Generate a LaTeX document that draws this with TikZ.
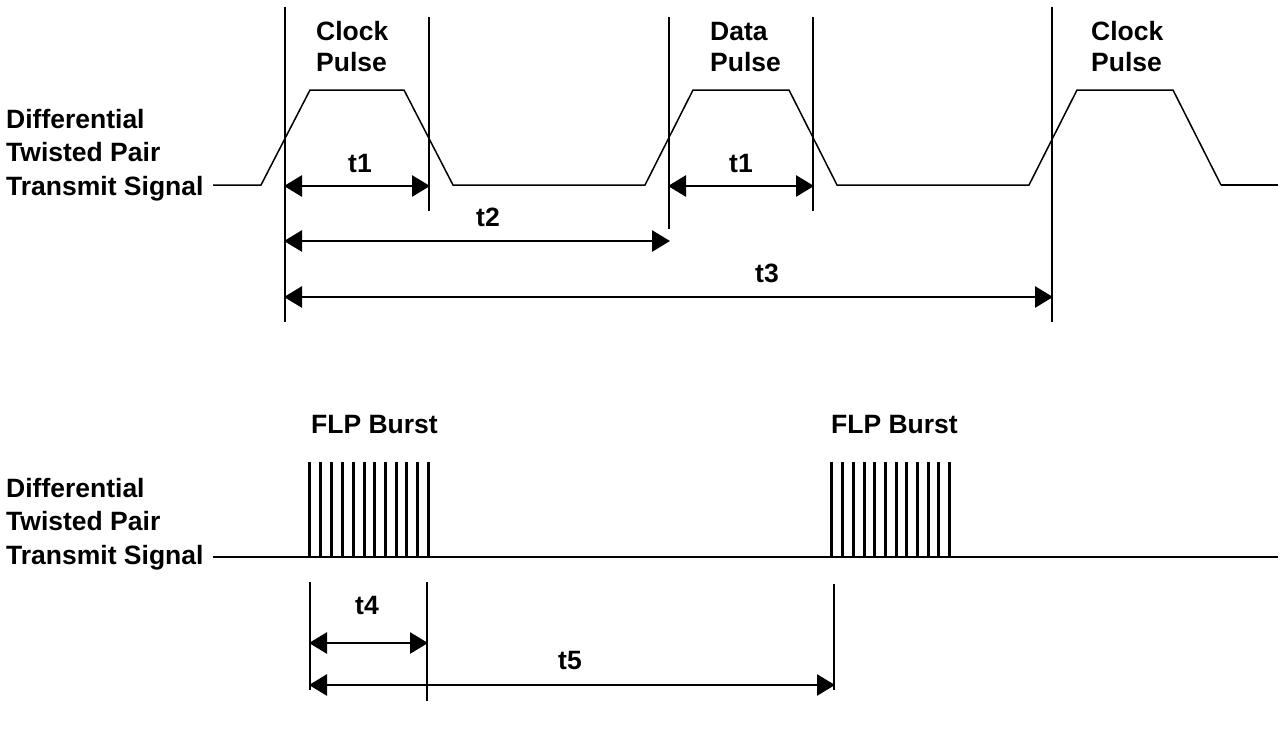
\documentclass[tikz,border=0pt]{standalone}
\usepackage{fontspec}
\setmainfont{Liberation Sans}
\usetikzlibrary{arrows.meta}
\begin{document}
\begin{tikzpicture}[x=1pt,y=-1pt,
  lbl/.style={inner sep=0pt,anchor=base west,font=\fontsize{26.5}{30}\selectfont\bfseries},
  tlbl/.style={inner sep=0pt,anchor=base,font=\fontsize{26.5}{30}\selectfont\bfseries},
  wave/.style={line width=1.5pt,line join=miter},
  marker/.style={line width=2.8pt},
  dim/.style={line width=2.8pt,{Triangle[length=18pt,width=21pt]}-{Triangle[length=18pt,width=21pt]},shorten <=-1pt,shorten >=-1pt},
  burst/.style={line width=2.2pt},
  base/.style={line width=2.5pt}]
\useasboundingbox (0,0) rectangle (1283,750);
\fill[white] (0,0) rectangle (1283,750);

% ---------- top diagram ----------
\node[lbl] (d1a) at (6,128) {Differential};
\node[lbl] (d1b) at (6,161.5) {Twisted Pair};
\node[lbl] (d1c) at (6,195.5) {Transmit Signal};

\node[lbl] (cp1a) at (316,40) {Clock};
\node[lbl] (cp1b) at (316,71) {Pulse};
\node[lbl] (dpa) at (710,40) {Data};
\node[lbl] (dpb) at (710,71) {Pulse};
\node[lbl] (cp2a) at (1091,40) {Clock};
\node[lbl] (cp2b) at (1091,71) {Pulse};

\draw[wave] (213,185) -- (261,185) -- (310,90) -- (404,90) -- (453,185)
  -- (645,185) -- (693,90) -- (789,90) -- (837,185)
  -- (1029,185) -- (1077,90) -- (1173,90) -- (1221,185);
\draw[base] (1221,185) -- (1278,185);

\coordinate (m1t) at (285,7);   \coordinate (m1b) at (285,322);
\coordinate (m2t) at (429,17);  \coordinate (m2b) at (429,211);
\coordinate (m3t) at (669,17);  \coordinate (m3b) at (669,229);
\coordinate (m4t) at (813,17);  \coordinate (m4b) at (813,211);
\coordinate (m5t) at (1052,7);  \coordinate (m5b) at (1052,322);
\foreach \m in {1,...,5} \draw[marker] (m\m t) -- (m\m b);

\coordinate (a1l) at (285,186); \coordinate (a1r) at (429,186);
\coordinate (a2l) at (669,186); \coordinate (a2r) at (813,186);
\coordinate (a3l) at (285,241); \coordinate (a3r) at (669,241);
\coordinate (a4l) at (285,297); \coordinate (a4r) at (1052,297);
\draw[dim] (a1l) -- (a1r);
\draw[dim] (a2l) -- (a2r);
\draw[dim] (a3l) -- (a3r);
\draw[dim] (a4l) -- (a4r);

\node[tlbl] (t1a) at (360,172) {t1};
\node[tlbl] (t1b) at (741,172) {t1};
\node[tlbl] (t2) at (488,226) {t2};
\node[tlbl] (t3) at (767,282) {t3};

% ---------- bottom diagram ----------
\node[lbl] (d2a) at (6,497) {Differential};
\node[lbl] (d2b) at (6,530.5) {Twisted Pair};
\node[lbl] (d2c) at (6,564.5) {Transmit Signal};

\node[lbl] (flp1) at (311,433) {FLP Burst};
\node[lbl] (flp2) at (831,433) {FLP Burst};

\draw[base] (213,557) -- (1278,557);
\foreach \x in {309.5,320.5,331.5,342.5,353.5,364.5,374.5,385.5,396.5,406.5,417.5,428.5}
  \draw[burst] (\x,462) -- (\x,557);
\foreach \x in {831.5,842.5,853.5,864.5,874.5,885.5,896.5,906.5,917.5,928.5,938.5,949.5}
  \draw[burst] (\x,462) -- (\x,557);

\coordinate (n1t) at (310,582); \coordinate (n1b) at (310,690);
\coordinate (n2t) at (427,582); \coordinate (n2b) at (427,701);
\coordinate (n3t) at (834,584); \coordinate (n3b) at (834,690);
\foreach \m in {1,2,3} \draw[marker] (n\m t) -- (n\m b);

\coordinate (b1l) at (310,643); \coordinate (b1r) at (427,643);
\coordinate (b2l) at (310,685); \coordinate (b2r) at (834,685);
\draw[dim] (b1l) -- (b1r);
\draw[dim] (b2l) -- (b2r);

\node[tlbl] (t4) at (367,614) {t4};
\node[tlbl] (t5) at (570,669) {t5};
\end{tikzpicture}
\end{document}
